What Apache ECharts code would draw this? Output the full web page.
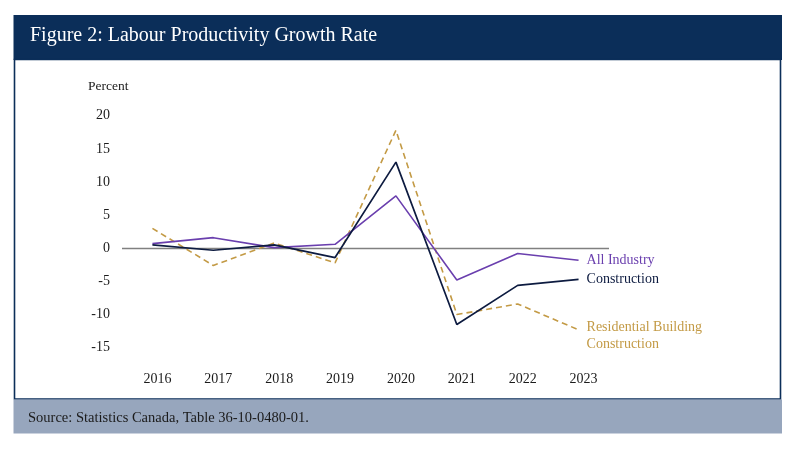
<!DOCTYPE html>
<html>

<head>
    <meta charset='UTF-8'>
    <script src="https://cdn.jsdelivr.net/npm/echarts@6/dist/echarts.min.js"></script>
    <style>
        html, body {
            margin: 0;
            padding: 0;
            background: #ffffff;
        }

        #chart {
            width: 800px;
            height: 453px;
        }
    </style>
    <title>Labour Productivity Growth Rate</title>
</head>

<body>
    <div id="chart"></div>

    <script>
        // data (percent)
        var years = ['2016', '2017', '2018', '2019', '2020', '2021', '2022', '2023'];
        var allIndustry = [0.7, 1.6, 0.1, 0.6, 7.9, -4.8, -0.8, -1.8];
        var construction = [0.5, -0.3, 0.5, -1.4, 13.0, -11.5, -5.6, -4.7];
        var residential = [3.0, -2.6, 0.8, -2.2, 17.8, -10.0, -8.4, -12.3];
        var yTicks = { min: -15, max: 20, step: 5 };

        var serif = '"Liberation Serif", "DejaVu Serif", serif';
        var navy = '#0b2e59';

        var myChart = echarts.init(document.getElementById('chart'), null, {
            renderer: 'canvas'
        });

        var option = {
            backgroundColor: '#ffffff',
            animation: false,
            textStyle: {
                fontFamily: serif
            },
            graphic: [
                // header band
                {
                    type: 'rect',
                    shape: { x: 13.5, y: 15, width: 768.5, height: 45 },
                    style: { fill: navy },
                    z: 0
                },
                {
                    type: 'text',
                    left: 30,
                    top: 26,
                    style: {
                        text: 'Figure 2: Labour Productivity Growth Rate',
                        fill: '#ffffff',
                        font: '20px ' + serif
                    },
                    z: 1
                },
                // white chart box with navy border
                {
                    type: 'rect',
                    shape: { x: 14.5, y: 59.5, width: 766, height: 339.5 },
                    style: { fill: '#ffffff', stroke: navy, lineWidth: 1.6 },
                    z: 0
                },
                // footer band
                {
                    type: 'rect',
                    shape: { x: 13.5, y: 399.5, width: 768.5, height: 34 },
                    style: { fill: '#97a6bd' },
                    z: 0
                },
                {
                    type: 'text',
                    left: 28,
                    top: 411,
                    style: {
                        text: 'Source: Statistics Canada, Table 36-10-0480-01.',
                        fill: '#1b1b1b',
                        font: '14.5px ' + serif
                    },
                    z: 1
                },
                {
                    type: 'text',
                    left: 88,
                    top: 79,
                    style: {
                        text: 'Percent',
                        fill: '#1b1b1b',
                        font: '13.5px ' + serif
                    },
                    z: 1
                }
            ],
            grid: {
                left: 122,
                right: 191,
                top: 115.7,
                bottom: 105.3,
                containLabel: false
            },
            xAxis: {
                type: 'category',
                data: years,
                boundaryGap: true,
                axisLine: { show: false, onZero: false },
                axisTick: { show: false },
                splitLine: { show: false },
                axisLabel: {
                    color: '#1b1b1b',
                    fontSize: 14,
                    fontFamily: serif,
                    margin: 25,
                    padding: [0, 0, 0, 10]
                }
            },
            yAxis: {
                type: 'value',
                min: yTicks.min,
                max: yTicks.max,
                interval: yTicks.step,
                axisLine: { show: false },
                axisTick: { show: false },
                splitLine: { show: false },
                axisLabel: {
                    color: '#1b1b1b',
                    fontSize: 14,
                    fontFamily: serif,
                    margin: 12
                }
            },
            series: [{
                name: 'All Industry',
                type: 'line',
                data: allIndustry,
                symbol: 'none',
                z: 4,
                lineStyle: { color: '#6a3fae', width: 1.6 },
                itemStyle: { color: '#6a3fae' },
                endLabel: {
                    show: true,
                    formatter: '{a}',
                    color: '#6a3fae',
                    fontSize: 14,
                    fontFamily: serif,
                    distance: 8
                },
                markLine: {
                    silent: true,
                    symbol: 'none',
                    label: { show: false },
                    lineStyle: { color: '#808080', width: 1.3, type: 'solid' },
                    data: [{ yAxis: 0 }],
                    z: 1
                }
            }, {
                name: 'Construction',
                type: 'line',
                data: construction,
                symbol: 'none',
                z: 5,
                lineStyle: { color: '#0d1b40', width: 1.7 },
                itemStyle: { color: '#0d1b40' },
                endLabel: {
                    show: true,
                    formatter: '{a}',
                    color: '#0d1b40',
                    fontSize: 14,
                    fontFamily: serif,
                    distance: 8
                }
            }, {
                name: 'Residential Building\nConstruction',
                type: 'line',
                data: residential,
                symbol: 'none',
                z: 3,
                lineStyle: { color: '#c39a45', width: 1.6, type: [6, 4] },
                itemStyle: { color: '#c39a45' },
                endLabel: {
                    show: true,
                    formatter: '{a}',
                    color: '#c39a45',
                    fontSize: 14,
                    fontFamily: serif,
                    lineHeight: 16.5,
                    distance: 8,
                    offset: [0, 6]
                }
            }]
        };

        myChart.setOption(option);
        window.addEventListener('resize', myChart.resize);
    </script>
</body>

</html>
